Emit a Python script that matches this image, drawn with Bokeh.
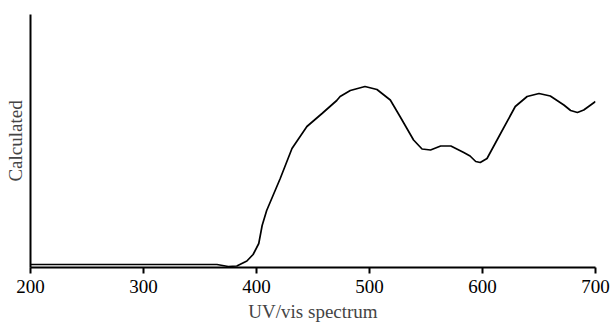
from bokeh.plotting import figure
from bokeh.models import FixedTicker
from bokeh.embed import file_html
from bokeh.resources import INLINE

# Wavelength (nm) and calculated absorbance (arbitrary units)
wavelength = [200, 250, 300, 350, 365, 375, 382.6, 391.5, 397, 402, 405, 409, 421,
              431.4, 444.6, 458, 471, 474, 483, 496, 506.6, 518.4, 527, 539, 546.5,
              554, 563, 572, 583.4, 589, 594, 598, 604, 616, 629, 639.5, 650, 660,
              672, 678, 684, 689.6, 700]
calculated = [3, 3, 3, 3, 3, 1, 1.5, 6.5, 13, 24, 42, 57, 89,
              119, 141, 154, 167, 171, 177, 181, 178, 167.5, 151, 127.5, 118.5,
              117.5, 121.5, 121.5, 115, 111.5, 106, 105, 109, 134, 161, 171, 174, 171.5,
              162.5, 157, 155, 157.5, 166]
x_ticks = [200, 300, 400, 500, 600, 700]

FONT = "Liberation Serif"

p = figure(frame_width=565, frame_height=253, x_range=(200, 700), y_range=(0, 253),
           output_backend="svg", toolbar_location=None,
           min_border_left=30, min_border_right=18, min_border_top=14, min_border_bottom=0)
p.outline_line_color = None
p.grid.visible = False
p.background_fill_color = "white"
p.border_fill_color = "white"

p.line(wavelength, calculated, line_color="black", line_width=1.7)

xa = p.xaxis[0]
xa.ticker = FixedTicker(ticks=x_ticks)
xa.minor_tick_line_color = None
xa.major_tick_out = 6
xa.major_tick_in = 0
xa.axis_line_width = 2
xa.major_tick_line_width = 2
xa.axis_label = "UV/vis spectrum"
xa.axis_label_text_font = FONT
xa.axis_label_text_font_style = "normal"
xa.axis_label_text_font_size = "19px"
xa.major_label_text_font = FONT
xa.major_label_text_font_size = "19px"
xa.major_label_text_color = "black"
xa.axis_label_standoff = 5
xa.major_label_standoff = 6

ya = p.yaxis[0]
ya.ticker = FixedTicker(ticks=[])
ya.minor_tick_line_color = None
ya.major_tick_out = 0
ya.major_tick_in = 0
ya.axis_line_width = 2
ya.axis_label = "Calculated"
ya.axis_label_text_font = FONT
ya.axis_label_text_font_style = "normal"
ya.axis_label_text_font_size = "19px"
ya.axis_label_standoff = 5

open("out.html", "w").write(file_html(p, INLINE))
